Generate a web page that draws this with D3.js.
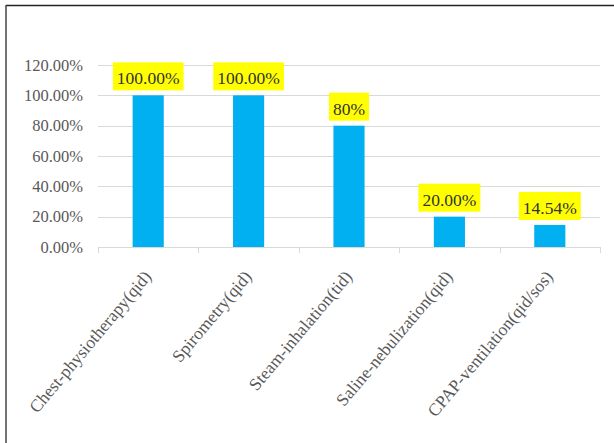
<!DOCTYPE html>
<html><head><meta charset="utf-8">
<script src="https://cdn.jsdelivr.net/npm/d3@7"></script>
<style>html,body{margin:0;padding:0;background:#fff}
svg text{font-family:"Liberation Serif","DejaVu Serif",serif;}</style>
</head><body>
<svg id="chart" width="614" height="443"></svg>
<script>
const categories = ["Chest-physiotherapy(qid)","Spirometry(qid)","Steam-inhalation(tid)","Saline-nebulization(qid)","CPAP-ventilation(qid/sos)"];
const values = [100, 100, 80, 20, 14.54];
const valueLabels = ["100.00%","100.00%","80%","20.00%","14.54%"];
const yTicks = [0, 20, 40, 60, 80, 100, 120];

(function(){
const svg = d3.select("#chart");
const font = '"Liberation Serif","DejaVu Serif",serif';
const mLeft = 98, mRight = 600, mTop = 65, mBottom = 247;

// frame (top and left edges)
svg.append("line").attr("x1",6).attr("x2",614).attr("y1",5.5).attr("y2",5.5).attr("stroke","#222").attr("stroke-width",1.5);
svg.append("line").attr("x1",6).attr("x2",6).attr("y1",5).attr("y2",443).attr("stroke","#444").attr("stroke-width",1.5);

const x = d3.scaleBand().domain(categories).range([mLeft, mRight]).paddingInner(0.69).paddingOuter(0.345);
const y = d3.scaleLinear().domain([0, 120]).range([mBottom, mTop]);

// gridlines
svg.append("g").selectAll("line").data(yTicks.filter(t=>t>0)).join("line")
  .attr("x1", mLeft).attr("x2", mRight)
  .attr("y1", d=>Math.round(y(d))+0.5).attr("y2", d=>Math.round(y(d))+0.5)
  .attr("stroke","#d9d9d9").attr("stroke-width",1);

// y axis labels
const yAxis = d3.axisLeft(y).tickValues(yTicks).tickFormat(d=>d.toFixed(2)+"%").tickSize(0).tickPadding(15);
const yg = svg.append("g").attr("transform",`translate(${mLeft},0)`).call(yAxis);
yg.attr("font-family",null).attr("font-size",null);
yg.select(".domain").remove();
yg.selectAll("text").style("font-family",font).style("font-size","16.5px").attr("fill","#595959");

// bars
svg.append("g").selectAll("rect").data(values).join("rect")
  .attr("x",(d,i)=>x(categories[i])).attr("width",x.bandwidth())
  .attr("y",d=>y(d)).attr("height",d=>y(0)-y(d))
  .attr("fill","#00b0f0");

// x axis
const xOuter = d3.scaleLinear().domain([0, categories.length]).range([mLeft, mRight]);
const xg = svg.append("g").attr("transform",`translate(0,${mBottom})`);
xg.append("line").attr("x1",mLeft).attr("x2",mRight).attr("y1",0.5).attr("y2",0.5).attr("stroke","#d9d9d9");
xg.selectAll("line.tk").data(d3.range(categories.length+1)).join("line").attr("class","tk")
  .attr("x1",d=>Math.round(xOuter(d))+0.5).attr("x2",d=>Math.round(xOuter(d))+0.5)
  .attr("y1",0).attr("y2",6).attr("stroke","#d9d9d9");
xg.selectAll("text").data(categories).join("text")
  .attr("transform",d=>`translate(${x(d)+x.bandwidth()/2+4},${30}) rotate(-50)`)
  .attr("text-anchor","end")
  .style("font-family",font).style("font-size","17.5px").attr("fill","#595959")
  .text(d=>d);

// value labels with yellow boxes
const lg = svg.append("g");
values.forEach((v,i)=>{
  const cx = x(categories[i]) + x.bandwidth()/2;
  const g = lg.append("g");
  const t = g.append("text").attr("x",cx).attr("y",y(v)-11)
    .attr("text-anchor","middle").style("font-family",font).style("font-size","17.5px").attr("fill","#333")
    .text(valueLabels[i]);
  const bb = t.node().getBBox();
  g.insert("rect","text").attr("x",bb.x-4).attr("y",y(v)-33).attr("width",bb.width+8).attr("height",28).attr("fill","#ffff00");
});
})();
</script>
</body></html>
